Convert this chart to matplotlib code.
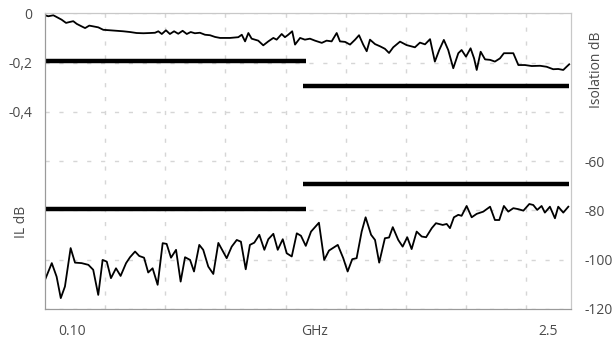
import matplotlib
matplotlib.use("Agg")
import matplotlib.pyplot as plt

# sweep 0.10 .. 2.5 GHz
il_freq = [0.100, 0.115, 0.138, 0.153, 0.176, 0.196, 0.214, 0.229, 0.245, 0.267,
           0.283, 0.302, 0.320, 0.343, 0.366, 0.397, 0.427, 0.457, 0.488, 0.518,
           0.549, 0.579, 0.602, 0.617, 0.633, 0.652, 0.670, 0.689, 0.708, 0.728,
           0.747, 0.765, 0.784, 0.807, 0.830, 0.853, 0.876, 0.899, 0.944, 0.982,
           0.998, 1.013, 1.028, 1.043, 1.058, 1.073, 1.096, 1.119, 1.142, 1.157,
           1.180, 1.195, 1.210, 1.228, 1.241, 1.264, 1.286, 1.309, 1.332, 1.363,
           1.385, 1.408, 1.431, 1.446, 1.469, 1.492, 1.515, 1.533, 1.552, 1.568,
           1.583, 1.606, 1.629, 1.651, 1.670, 1.689, 1.720, 1.750, 1.788, 1.811,
           1.834, 1.857, 1.879, 1.899, 1.920, 1.940, 1.963, 1.986, 2.001, 2.021,
           2.042, 2.058, 2.070, 2.088, 2.108, 2.131, 2.153, 2.176, 2.194, 2.237,
           2.260, 2.290, 2.321, 2.359, 2.389, 2.419, 2.442, 2.465, 2.480, 2.492]
il_db = [-0.008, -0.012, -0.008, -0.015, -0.026, -0.039, -0.035, -0.032, -0.043, -0.053,
         -0.060, -0.050, -0.053, -0.057, -0.067, -0.069, -0.071, -0.073, -0.076, -0.080,
         -0.081, -0.080, -0.079, -0.073, -0.084, -0.069, -0.084, -0.073, -0.083, -0.071,
         -0.084, -0.076, -0.081, -0.079, -0.087, -0.089, -0.096, -0.100, -0.100, -0.097,
         -0.087, -0.114, -0.080, -0.103, -0.107, -0.111, -0.130, -0.114, -0.100, -0.107,
         -0.084, -0.097, -0.087, -0.073, -0.127, -0.100, -0.107, -0.103, -0.111, -0.120,
         -0.111, -0.114, -0.080, -0.114, -0.116, -0.127, -0.107, -0.089, -0.127, -0.154,
         -0.107, -0.125, -0.134, -0.144, -0.161, -0.138, -0.115, -0.129, -0.138, -0.119,
         -0.126, -0.105, -0.196, -0.149, -0.108, -0.149, -0.223, -0.162, -0.149, -0.176,
         -0.142, -0.183, -0.230, -0.156, -0.187, -0.189, -0.196, -0.183, -0.162, -0.162,
         -0.210, -0.210, -0.214, -0.213, -0.217, -0.227, -0.226, -0.230, -0.217, -0.207]

iso_freq = [0.100, 0.131, 0.153, 0.172, 0.191, 0.217, 0.237, 0.267, 0.298, 0.320,
            0.343, 0.363, 0.382, 0.401, 0.424, 0.445, 0.470, 0.488, 0.511, 0.530,
            0.552, 0.571, 0.591, 0.614, 0.637, 0.655, 0.675, 0.698, 0.719, 0.739,
            0.762, 0.780, 0.804, 0.822, 0.845, 0.868, 0.891, 0.929, 0.952, 0.975,
            0.994, 1.016, 1.035, 1.055, 1.078, 1.101, 1.119, 1.142, 1.162, 1.185,
            1.203, 1.226, 1.249, 1.268, 1.290, 1.314, 1.350, 1.374, 1.396, 1.436,
            1.461, 1.481, 1.502, 1.522, 1.545, 1.563, 1.588, 1.606, 1.625, 1.651,
            1.670, 1.687, 1.712, 1.732, 1.753, 1.773, 1.796, 1.819, 1.839, 1.865,
            1.884, 1.915, 1.933, 1.948, 1.966, 1.986, 2.001, 2.024, 2.047, 2.070,
            2.100, 2.131, 2.153, 2.173, 2.194, 2.214, 2.237, 2.260, 2.283, 2.310,
            2.328, 2.346, 2.366, 2.381, 2.404, 2.427, 2.442, 2.465, 2.488]
iso_db = [-108.2, -101.4, -106.9, -115.6, -110.9, -95.3, -101.2, -101.4, -102.1, -104.1,
          -114.3, -100.1, -100.8, -107.5, -103.5, -106.6, -101.4, -99.0, -96.7, -98.5,
          -99.2, -105.2, -103.5, -110.2, -93.3, -93.6, -99.2, -96.0, -108.9, -99.0,
          -100.1, -104.8, -94.0, -96.0, -102.8, -105.8, -93.2, -99.4, -94.7, -92.0,
          -92.7, -103.9, -94.0, -93.1, -89.9, -96.0, -91.7, -89.5, -96.0, -91.7,
          -97.4, -98.7, -89.3, -90.3, -94.4, -88.6, -85.0, -100.1, -96.3, -94.0,
          -99.4, -104.8, -99.8, -99.4, -88.6, -82.8, -89.9, -92.0, -101.2, -91.3,
          -91.0, -86.8, -92.0, -94.7, -90.9, -95.7, -88.6, -90.6, -90.9, -87.2,
          -85.2, -85.9, -85.5, -87.2, -82.8, -81.8, -82.2, -78.2, -82.8, -81.4,
          -80.5, -78.5, -83.9, -83.9, -78.2, -80.5, -79.1, -79.5, -80.1, -77.4,
          -77.8, -79.8, -78.2, -80.9, -78.5, -83.2, -78.5, -80.9, -78.5]

# limit lines (start, stop, level)
il_spec = [(0.100, 1.291, -0.195), (1.277, 2.491, -0.295)]
iso_spec = [(0.100, 1.291, -79.4), (1.277, 2.491, -69.4)]

left_ticks = [0, -0.2, -0.4, -0.6, -0.8, -1.0, -1.2]
left_labels = ["0", "-0,2", "-0,4", "", "", "", ""]
right_ticks = [-60, -80, -100, -120]
right_labels = ["-60", "-80", "-100", "-120"]

plt.rcParams['font.family'] = ['Open Sans', 'DejaVu Sans']
txt = '#4a4a4a'
fs = 10

fig = plt.figure(figsize=(6.13, 3.41), dpi=100)
ax = fig.add_axes([0.0734, 0.094, 0.858, 0.867])
ax2 = ax.twinx()

ax.set_xlim(0.1, 2.5)
ax.set_ylim(-1.2, 0)
ax2.set_ylim(-120, 0)

# vertical grid divisions
ax.set_xticks([0.1 + k * 0.2745 for k in range(1, 9)])
ax.set_xticklabels([])
ax.set_yticks(left_ticks)
ax.set_yticklabels(left_labels, fontsize=fs, color=txt)
ax.tick_params(length=0, pad=9)
ax.grid(True, color='#d6d6d6', linestyle=(0, (3, 7)), linewidth=1.0)

ax2.set_yticks(right_ticks)
ax2.set_yticklabels(right_labels, fontsize=fs, color=txt)
ax2.tick_params(length=0, pad=10)

for a in (ax, ax2):
    for side in ['top', 'right']:
        a.spines[side].set_color('#c8c8c8')
    for side in ['left', 'bottom']:
        a.spines[side].set_color('#9a9a9a')

ax.plot(il_freq, il_db, color='black', linewidth=1.3)
for x0, x1, lvl in il_spec:
    ax.plot([x0, x1], [lvl, lvl], color='black', linewidth=3.2, solid_capstyle='butt')

ax2.plot(iso_freq, iso_db, color='black', linewidth=1.3)
for x0, x1, lvl in iso_spec:
    ax2.plot([x0, x1], [lvl, lvl], color='black', linewidth=3.2, solid_capstyle='butt')

ax.text(0.051, -0.075, "0.10", transform=ax.transAxes, ha='center', va='center', fontsize=fs, color=txt)
ax.text(0.513, -0.075, "GHz", transform=ax.transAxes, ha='center', va='center', fontsize=fs, color=txt)
ax.text(0.956, -0.075, "2.5", transform=ax.transAxes, ha='center', va='center', fontsize=fs, color=txt)

fig.text(22 / 613, 1 - 222 / 341, "IL dB", rotation=90, ha='center', va='center', fontsize=fs, color=txt)
fig.text(597 / 613, 1 - 70 / 341, "Isolation dB", rotation=90, ha='center', va='center', fontsize=fs, color=txt)

fig.savefig("out.png", dpi=100)
